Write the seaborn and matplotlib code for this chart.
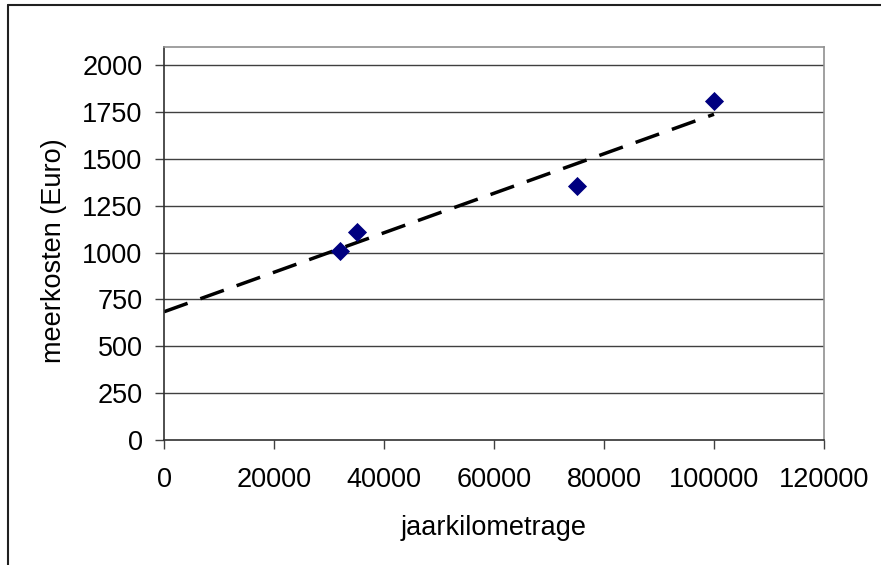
import numpy as np
import pandas as pd
import matplotlib
matplotlib.use("Agg")
import matplotlib.pyplot as plt
from matplotlib.lines import Line2D
import seaborn as sns

# annual mileage vs. extra cost
km = [32000, 35000, 75000, 100000]
kosten = [1010, 1110, 1355, 1810]
x_ticks = [0, 20000, 40000, 60000, 80000, 100000, 120000]
y_ticks = [0, 250, 500, 750, 1000, 1250, 1500, 1750, 2000]

df = pd.DataFrame({"jaarkilometrage": km, "meerkosten": kosten})

sns.set_theme(style="white")
plt.rcParams["font.family"] = ["Liberation Sans", "DejaVu Sans"]
plt.rcParams["text.color"] = "black"
plt.rcParams["axes.labelcolor"] = "black"
plt.rcParams["xtick.color"] = "black"
plt.rcParams["ytick.color"] = "black"

fig = plt.figure(figsize=(8.81, 5.65), dpi=100)
ax = fig.add_axes([0.1862, 0.2212, 0.7491, 0.6956])

# horizontal grid
for yv in y_ticks[1:]:
    ax.axhline(yv, color="#404040", lw=1.0, zorder=0)

# linear trendline (least squares) from 0 to the largest mileage
slope, icpt = np.polyfit(km, kosten, 1)
xs = np.array([0, max(km)])
ax.plot(xs, icpt + slope * xs, color="black", lw=2.5,
        dashes=(7.2, 3.9), solid_capstyle="butt", dash_capstyle="butt", zorder=2)

sns.scatterplot(data=df, x="jaarkilometrage", y="meerkosten", ax=ax,
                marker="D", s=95, color="#000080", edgecolor="#000080",
                linewidth=0, zorder=3)

ax.set_xlim(0, 120000)
ax.set_ylim(0, 2096)
ax.set_xticks(x_ticks)
ax.set_yticks(y_ticks)
ax.set_xticklabels([str(v) for v in x_ticks], fontsize=19.5)
ax.set_yticklabels([str(v) for v in y_ticks], fontsize=19.5)
ax.tick_params(axis="both", direction="out", length=6.5, width=1.0,
               color="#404040", labelcolor="black", bottom=True, left=True)
ax.tick_params(axis="x", pad=13)
ax.tick_params(axis="y", pad=9)

ax.set_xlabel("jaarkilometrage", fontsize=19.5, labelpad=16, color="black")
ax.set_ylabel("meerkosten (Euro)", fontsize=19.5, labelpad=11, color="black")
ax.yaxis.label.set_y(0.483)

for side in ["left", "bottom"]:
    ax.spines[side].set_color("#303030")
    ax.spines[side].set_linewidth(1.2)
for side in ["top", "right"]:
    ax.spines[side].set_color("#909090")
    ax.spines[side].set_linewidth(1.2)
ax.set_facecolor("white")

# outer chart frame (top and left edges)
W, H = 881, 565
fig.add_artist(Line2D([8 / W, 8 / W], [0, 1 - 5 / H], color="#202020", lw=1.5,
                      transform=fig.transFigure))
fig.add_artist(Line2D([8 / W, 1], [1 - 5 / H, 1 - 5 / H], color="#202020", lw=1.5,
                      transform=fig.transFigure))

fig.savefig("out.png", dpi=100)
